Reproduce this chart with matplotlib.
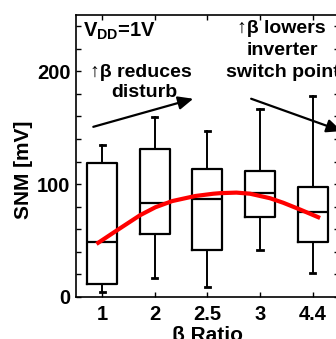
import matplotlib
matplotlib.use("Agg")
import matplotlib.pyplot as plt
from matplotlib.ticker import MultipleLocator

plt.rcParams['font.family'] = ['Liberation Sans', 'DejaVu Sans']
plt.rcParams['font.weight'] = 'bold'
plt.rcParams['mathtext.fontset'] = 'custom'
plt.rcParams['mathtext.bf'] = 'Liberation Sans:bold'
plt.rcParams['mathtext.rm'] = 'Liberation Sans:bold'
plt.rcParams['mathtext.default'] = 'bf'

# beta ratios and SNM box stats (mV)
cats = ['1', '2', '2.5', '3', '4.4']
whislo = [4.7, 17, 9, 41.7, 21]
q1 = [11.5, 56, 41.7, 71.3, 49]
med = [49, 83.4, 87, 92, 75.2]
q3 = [119, 131, 113.6, 111.8, 97.3]
whishi = [135, 159.7, 146.7, 166.5, 177.7]

# red trend curve (x in category positions)
trend_x = [0.89, 1.31, 1.72, 2.01, 2.33, 2.77, 3.11, 3.24, 3.55, 3.81, 4.19, 4.44, 4.76, 5.14]
trend_y = [47, 60, 72.5, 79.5, 85, 89.5, 91.5, 92, 92.5, 91.5, 87.5, 83.5, 77.5, 70]

fig = plt.figure(figsize=(3.36, 3.39), dpi=100)
ax = fig.add_axes([0.226, 0.124, 0.783, 0.832])

stats = []
for i in range(len(cats)):
    stats.append({'whislo': whislo[i], 'q1': q1[i], 'med': med[i],
                  'q3': q3[i], 'whishi': whishi[i], 'fliers': []})

ax.bxp(stats, positions=range(1, len(cats) + 1), widths=0.57, capwidths=0.1,
       showfliers=False,
       boxprops=dict(color='black', linewidth=1.6),
       medianprops=dict(color='black', linewidth=1.6),
       whiskerprops=dict(color='black', linewidth=1.4),
       capprops=dict(color='black', linewidth=2.0))

ax.plot(trend_x, trend_y, color='red', linewidth=3.0, solid_capstyle='butt', zorder=5)

ax.set_xlim(0.5, 5.5)
ax.set_ylim(0, 250)
ax.set_xticks(range(1, len(cats) + 1))
ax.set_xticklabels(cats)
ax.yaxis.set_major_locator(MultipleLocator(100))
ax.yaxis.set_minor_locator(MultipleLocator(20))
ax.tick_params(axis='both', which='both', direction='in', top=True, right=True,
               length=3.5, width=1, labelsize=14.5)
ax.tick_params(axis='x', pad=6)
ax.tick_params(axis='y', pad=4)
for lab in ax.get_xticklabels() + ax.get_yticklabels():
    lab.set_fontweight('bold')
for s in ax.spines.values():
    s.set_linewidth(1.2)

ax.set_xlabel('β Ratio', fontsize=15, fontweight='bold', labelpad=1)
ax.set_ylabel('SNM [mV]', fontsize=15, fontweight='bold')
ax.yaxis.set_label_coords(-0.163, 0.45)

ax.text(0.64, 230.7, 'V$_{DD}$=1V', fontsize=14.5, fontweight='bold', va='baseline', ha='left')
ax.text(1.74, 195, '↑β reduces', fontsize=14, fontweight='bold', va='baseline', ha='center')
ax.text(1.80, 177.5, 'disturb', fontsize=14, fontweight='bold', va='baseline', ha='center')
ax.text(4.40, 234, '↑β lowers', fontsize=14, fontweight='bold', va='baseline', ha='center')
ax.text(4.42, 214.7, 'inverter', fontsize=14, fontweight='bold', va='baseline', ha='center')
ax.text(4.43, 195, 'switch point', fontsize=14, fontweight='bold', va='baseline', ha='center')

arrow = dict(arrowstyle='-|>,head_length=0.9,head_width=0.4', color='black', lw=1.6,
             shrinkA=0, shrinkB=0)
ax.annotate('', xy=(2.73, 175.7), xytext=(0.83, 150.8), arrowprops=arrow)
ax.annotate('', xy=(5.55, 147), xytext=(3.83, 175.7), arrowprops=arrow, annotation_clip=False)

fig.savefig('out.png', dpi=100)
